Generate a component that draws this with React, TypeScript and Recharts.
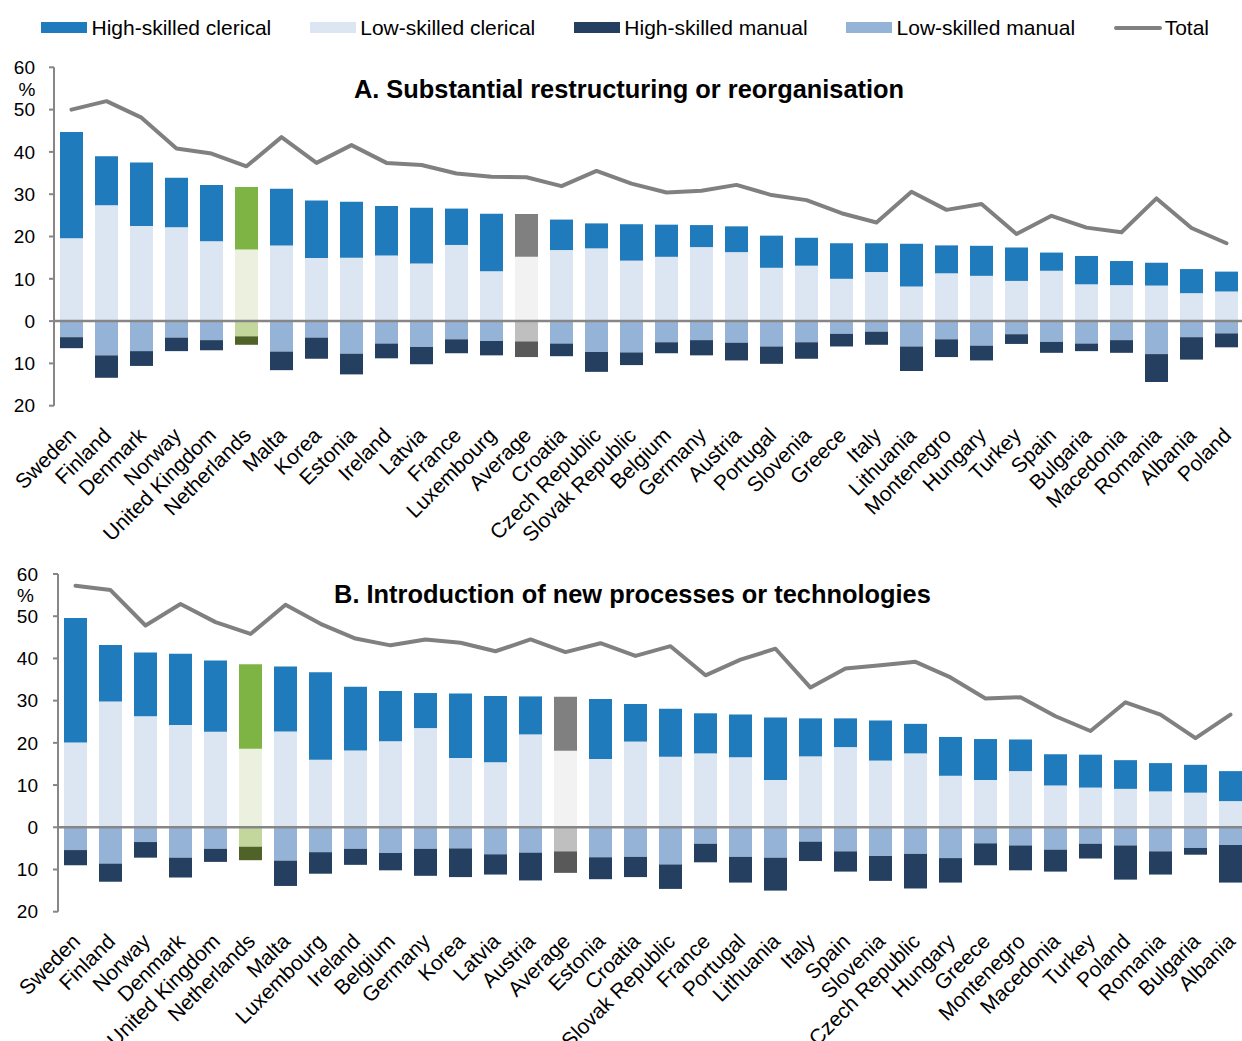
import React from 'react';
import {
  ComposedChart,
  Bar,
  Line,
  XAxis,
  YAxis,
  Legend,
  ReferenceLine,
  Cell,
} from 'recharts';

// Panel A: Substantial restructuring or reorganisation
const COUNTRIES_A = [
  'Sweden', 'Finland', 'Denmark', 'Norway', 'United Kingdom', 'Netherlands', 'Malta', 'Korea',
  'Estonia', 'Ireland', 'Latvia', 'France', 'Luxembourg', 'Average', 'Croatia', 'Czech Republic',
  'Slovak Republic', 'Belgium', 'Germany', 'Austria', 'Portugal', 'Slovenia', 'Greece', 'Italy',
  'Lithuania', 'Montenegro', 'Hungary', 'Turkey', 'Spain', 'Bulgaria', 'Macedonia', 'Romania',
  'Albania', 'Poland',
];
const LOW_CLERICAL_A = [
  19.6, 27.4, 22.5, 22.2, 18.9, 16.9, 17.9, 14.9, 15.0, 15.5, 13.6, 18.0, 11.8, 15.2, 16.8, 17.2,
  14.3, 15.2, 17.5, 16.3, 12.6, 13.1, 10.0, 11.6, 8.2, 11.3, 10.7, 9.5, 11.9, 8.7, 8.5, 8.4, 6.6, 7.0,
];
const HIGH_CLERICAL_A = [
  25.1, 11.6, 15.0, 11.7, 13.3, 14.8, 13.4, 13.6, 13.2, 11.7, 13.2, 8.6, 13.6, 10.1, 7.2, 5.9,
  8.6, 7.6, 5.2, 6.1, 7.6, 6.6, 8.4, 6.8, 10.1, 6.6, 7.1, 7.9, 4.3, 6.7, 5.7, 5.4, 5.7, 4.7,
];
const LOW_MANUAL_A = [
  3.8, 8.1, 7.1, 3.9, 4.5, 3.6, 7.2, 3.9, 7.7, 5.3, 6.1, 4.3, 4.7, 4.8, 5.3, 7.3,
  7.4, 5.0, 4.5, 5.1, 6.0, 5.0, 3.0, 2.5, 6.0, 4.3, 5.8, 3.1, 4.9, 5.3, 4.5, 7.8, 3.8, 2.9,
];
const HIGH_MANUAL_A = [
  2.6, 5.3, 3.5, 3.2, 2.4, 2.0, 4.4, 5.0, 4.9, 3.5, 4.1, 3.3, 3.4, 3.7, 3.0, 4.7,
  3.0, 2.6, 3.6, 4.2, 4.1, 3.9, 3.0, 3.1, 5.8, 4.2, 3.5, 2.3, 2.6, 1.8, 3.0, 6.6, 5.3, 3.3,
];
const TOTAL_A = [
  50.0, 52.0, 48.1, 40.8, 39.6, 36.6, 43.5, 37.4, 41.6, 37.4, 36.9, 34.9, 34.1, 34.0, 31.9, 35.5,
  32.5, 30.4, 30.8, 32.2, 29.8, 28.6, 25.5, 23.3, 30.6, 26.3, 27.7, 20.6, 24.9, 22.1, 21.0, 29.0, 22.0, 18.4,
];

// Panel B: Introduction of new processes or technologies
const COUNTRIES_B = [
  'Sweden', 'Finland', 'Norway', 'Denmark', 'United Kingdom', 'Netherlands', 'Malta', 'Luxembourg',
  'Ireland', 'Belgium', 'Germany', 'Korea', 'Latvia', 'Austria', 'Average', 'Estonia', 'Croatia',
  'Slovak Republic', 'France', 'Portugal', 'Lithuania', 'Italy', 'Spain', 'Slovenia', 'Czech Republic',
  'Hungary', 'Greece', 'Montenegro', 'Macedonia', 'Turkey', 'Poland', 'Romania', 'Bulgaria', 'Albania',
];
const LOW_CLERICAL_B = [
  20.1, 29.8, 26.3, 24.2, 22.6, 18.6, 22.7, 16.0, 18.2, 20.4, 23.5, 16.4, 15.4, 22.0, 18.1, 16.2, 20.3,
  16.7, 17.5, 16.6, 11.2, 16.8, 19.0, 15.8, 17.5, 12.2, 11.2, 13.3, 9.9, 9.4, 9.1, 8.5, 8.2, 6.2,
];
const HIGH_CLERICAL_B = [
  29.5, 13.4, 15.1, 16.9, 16.9, 20.0, 15.4, 20.7, 15.1, 11.9, 8.3, 15.3, 15.7, 9.0, 12.8, 14.2, 8.9,
  11.4, 9.5, 10.1, 14.8, 9.0, 6.8, 9.5, 7.0, 9.2, 9.7, 7.5, 7.4, 7.8, 6.8, 6.7, 6.6, 7.1,
];
const LOW_MANUAL_B = [
  5.4, 8.6, 3.5, 7.2, 5.1, 4.6, 7.9, 5.9, 5.1, 6.1, 5.1, 5.0, 6.4, 6.0, 5.7, 7.1, 7.0,
  8.8, 3.9, 7.0, 7.2, 3.4, 5.7, 6.8, 6.3, 7.3, 3.8, 4.3, 5.3, 3.9, 4.3, 5.7, 4.9, 4.2,
];
const HIGH_MANUAL_B = [
  3.6, 4.3, 3.7, 4.7, 3.1, 3.2, 6.0, 5.1, 3.8, 4.1, 6.4, 6.8, 4.8, 6.6, 5.1, 5.2, 4.8,
  5.8, 4.4, 6.1, 7.8, 4.6, 4.8, 5.9, 8.2, 5.8, 5.2, 5.9, 5.2, 3.5, 8.1, 5.5, 1.6, 8.9,
];
const TOTAL_B = [
  57.2, 56.2, 47.8, 52.9, 48.6, 45.8, 52.7, 48.2, 44.7, 43.1, 44.5, 43.7, 41.7, 44.5, 41.5, 43.6, 40.6,
  42.9, 36.0, 39.7, 42.3, 33.1, 37.6, 38.4, 39.2, 35.5, 30.5, 30.8, 26.3, 22.8, 29.6, 26.7, 21.1, 26.7,
];

const Y_TICKS = [-20, -10, 0, 10, 20, 30, 40, 50, 60];

const FONT = "'Liberation Sans', Arial, Helvetica, sans-serif";
const AXIS_GREY = '#868686';

// normal / Netherlands / Average
const PALETTE: Record<string, string[]> = {
  highClerical: ['#1F7BBB', '#7DB443', '#808080'],
  lowClerical: ['#DCE6F2', '#EBF1DE', '#F2F2F2'],
  highManual: ['#243F60', '#4F6228', '#595959'],
  lowManual: ['#95B3D7', '#C3D69B', '#BFBFBF'],
};

const LEGEND_ITEMS = [
  { name: 'High-skilled clerical', color: PALETTE.highClerical[0] },
  { name: 'Low-skilled clerical', color: PALETTE.lowClerical[0] },
  { name: 'High-skilled manual', color: PALETTE.highManual[0] },
  { name: 'Low-skilled manual', color: PALETTE.lowManual[0] },
  { name: 'Total', color: '#808080', line: true },
];

function fillFor(key: string, country: string) {
  const idx = country === 'Netherlands' ? 1 : country === 'Average' ? 2 : 0;
  return PALETTE[key][idx];
}

function buildRows(
  countries: string[],
  lowC: number[],
  highC: number[],
  lowM: number[],
  highM: number[],
  total: number[],
) {
  return countries.map((country, i) => ({
    country,
    lowClerical: lowC[i],
    highClerical: highC[i],
    lowManual: -lowM[i],
    highManual: -highM[i],
    total: total[i],
  }));
}

function CountryTick({ x, y, payload }: any) {
  const bx = x + 6;
  const by = y + 31;
  return (
    <text
      x={bx}
      y={by}
      transform={`rotate(-45, ${bx}, ${by})`}
      textAnchor="end"
      fontSize={21}
      fontFamily={FONT}
      fill="#000"
    >
      {payload.value}
    </text>
  );
}

function LegendRow() {
  return (
    <div
      style={{
        display: 'flex',
        alignItems: 'center',
        height: 55,
        paddingLeft: 41,
        fontFamily: FONT,
        fontSize: 21,
        color: '#000',
        whiteSpace: 'nowrap',
      }}
    >
      {LEGEND_ITEMS.map((item) => (
        <div key={item.name} style={{ display: 'flex', alignItems: 'center', marginRight: 38.5 }}>
          {item.line ? (
            <div style={{ width: 48, height: 4, borderRadius: 2, background: item.color, marginRight: 3 }} />
          ) : (
            <div style={{ width: 46, height: 11, background: item.color, marginRight: 4.5 }} />
          )}
          <span style={{ lineHeight: '24px' }}>{item.name}</span>
        </div>
      ))}
    </div>
  );
}

interface PanelProps {
  rows: ReturnType<typeof buildRows>;
  title: string;
  titleX: number;
  titleY: number;
  pctX: number;
  pctY: number;
  height: number;
  margin: { top: number; right: number; left: number; bottom: number };
  yWidth: number;
  tickMargin: number;
  xHeight: number;
  withLegend?: boolean;
}

function Panel(p: PanelProps) {
  const { rows } = p;
  return (
    <ComposedChart width={1250} height={p.height} data={rows} margin={p.margin} stackOffset="sign" barCategoryGap={0}>
      {p.withLegend && (
        <Legend
          verticalAlign="top"
          align="left"
          wrapperStyle={{ top: 0, left: 0, width: 1242, height: 55 }}
          content={() => <LegendRow />}
        />
      )}
      <XAxis
        dataKey="country"
        interval={0}
        axisLine={false}
        tickLine={false}
        tickSize={0}
        tickMargin={0}
        height={p.xHeight}
        tick={<CountryTick />}
      />
      <YAxis
        domain={[-20, 60]}
        ticks={Y_TICKS}
        interval={0}
        width={p.yWidth}
        tickFormatter={(v: number) => String(Math.abs(v))}
        tick={{ fontSize: 19, fill: '#000', fontFamily: FONT }}
        tickSize={5}
        tickMargin={p.tickMargin}
        axisLine={{ stroke: AXIS_GREY, strokeWidth: 2 }}
        tickLine={{ stroke: AXIS_GREY, strokeWidth: 2 }}
      />
      <Bar dataKey="lowClerical" stackId="s" barSize={23} isAnimationActive={false}>
        {rows.map((r) => <Cell key={r.country} fill={fillFor('lowClerical', r.country)} />)}
      </Bar>
      <Bar dataKey="highClerical" stackId="s" barSize={23} isAnimationActive={false}>
        {rows.map((r) => <Cell key={r.country} fill={fillFor('highClerical', r.country)} />)}
      </Bar>
      <Bar dataKey="lowManual" stackId="s" barSize={23} isAnimationActive={false}>
        {rows.map((r) => <Cell key={r.country} fill={fillFor('lowManual', r.country)} />)}
      </Bar>
      <Bar dataKey="highManual" stackId="s" barSize={23} isAnimationActive={false}>
        {rows.map((r) => <Cell key={r.country} fill={fillFor('highManual', r.country)} />)}
      </Bar>
      <ReferenceLine y={0} stroke={AXIS_GREY} strokeWidth={2.5} />
      <Line
        dataKey="total"
        stroke="#808080"
        strokeWidth={4}
        strokeLinejoin="round"
        strokeLinecap="round"
        dot={false}
        activeDot={false}
        isAnimationActive={false}
      />
      <text x={p.titleX} y={p.titleY} textAnchor="middle" fontFamily={FONT} fontSize={25.4} fontWeight="bold" fill="#000">
        {p.title}
      </text>
      <text x={p.pctX} y={p.pctY} textAnchor="middle" fontFamily={FONT} fontSize={19} fill="#000">
        %
      </text>
    </ComposedChart>
  );
}

export default function App() {
  const rowsA = buildRows(COUNTRIES_A, LOW_CLERICAL_A, HIGH_CLERICAL_A, LOW_MANUAL_A, HIGH_MANUAL_A, TOTAL_A);
  const rowsB = buildRows(COUNTRIES_B, LOW_CLERICAL_B, HIGH_CLERICAL_B, LOW_MANUAL_B, HIGH_MANUAL_B, TOTAL_B);
  return (
    <div
      style={{
        position: 'absolute',
        left: 0,
        top: 0,
        width: 1242,
        height: 1041,
        overflow: 'hidden',
        background: '#fff',
      }}
    >
      <div style={{ position: 'absolute', left: 0, top: 0 }}>
        <Panel
          rows={rowsA}
          title="A. Substantial restructuring or reorganisation"
          titleX={629}
          titleY={98}
          pctX={27}
          pctY={96}
          height={545}
          margin={{ top: 12.3, right: 6, left: 0, bottom: 0 }}
          yWidth={54}
          tickMargin={14}
          xHeight={139.3}
          withLegend
        />
      </div>
      <div style={{ position: 'absolute', left: 0, top: 545 }}>
        <Panel
          rows={rowsB}
          title="B. Introduction of new processes or technologies"
          titleX={632.5}
          titleY={58}
          pctX={25.5}
          pctY={57}
          height={496}
          margin={{ top: 29, right: 2, left: 0, bottom: 0 }}
          yWidth={58}
          tickMargin={15}
          xHeight={129.3}
        />
      </div>
    </div>
  );
}
